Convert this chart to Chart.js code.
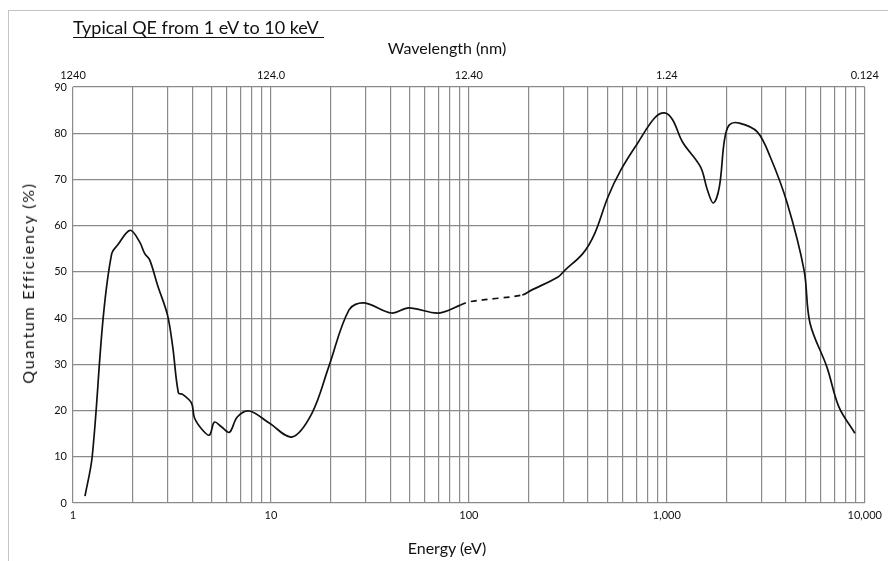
<!DOCTYPE html>
<html>
<head>
<meta charset="utf-8">
<script src="https://cdn.jsdelivr.net/npm/chart.js@4/dist/chart.umd.min.js"></script>
<style>
  html, body { margin: 0; padding: 0; background: #fff; }
  #wrap { position: relative; width: 888px; height: 561px; overflow: hidden; font-family: Lato, "DejaVu Sans", sans-serif; color: #111; }
  #frame { position: absolute; left: 8px; top: 10px; width: 890px; height: 560px;
           border-left: 1px solid #c4c4c4; border-top: 1px solid #c4c4c4; }
  #title { position: absolute; left: 73px; top: 18px; font-size: 18px;
           border-bottom: 1px solid #111; padding: 0 5px 0 0; line-height: 19px; }
  .axis-title { position: absolute; font-size: 16px; line-height: 18px; white-space: nowrap; transform: translate(-50%, -50%); }
  #xTitle { left: 447px; top: 548px; }
  #x2Title { left: 447px; top: 48px; }
  #yTitle { left: 28px; top: 283px; letter-spacing: 1.7px; transform: translate(-50%, -50%) rotate(-90deg); }
  canvas { position: absolute; left: 0; top: 0; }
</style>
</head>
<body>
<div id="wrap">
  <div id="frame"></div>
  <canvas id="qeChart" width="888" height="561"></canvas>
  <div id="title">Typical QE from 1 eV to 10 keV</div>
  <div class="axis-title" id="x2Title">Wavelength (nm)</div>
  <div class="axis-title" id="xTitle">Energy (eV)</div>
  <div class="axis-title" id="yTitle">Quantum Efficiency (%)</div>
</div>
<script>
// Curve: photon energy (eV) and quantum efficiency (%)
const energy = [1.15, 1.25, 1.42, 1.57, 1.68, 1.94, 2.17, 2.30, 2.44, 2.68, 3.0, 3.19, 3.41, 3.58, 3.97, 4.11, 4.51, 4.89,
                5.18, 5.62, 6.17, 6.76, 7.78, 9.8, 12.8, 16.1, 19.6, 24.8, 29.5, 40.7, 49.6, 70.3, 90.6,
                99.4, 141, 186, 206, 282, 306, 377, 433, 504, 585, 713, 867, 975, 1069, 1200, 1479, 1603, 1718,
                1842, 1954, 2069, 2322, 2862, 3327, 4053, 4933, 5288, 6437, 7396, 8908];
const qe = [1.5, 10, 40, 54, 55.8, 59, 56.5, 54, 52.6, 47, 40.7, 33.8, 23.8, 23.5, 21.6, 18.4, 15.8, 14.7,
            17.5, 16.5, 15.3, 18.6, 19.9, 17.3, 14.3, 19.4, 29.5, 41.8, 43.3, 41.1, 42.2, 41.1, 42.8,
            43.5, 44.3, 45, 46, 48.9, 50.4, 54, 58.4, 66.2, 72, 77.9, 83.3, 84.4, 82.9, 78.1, 72.7, 67.7, 64.9,
            68.4, 78.5, 81.8, 82.2, 80.3, 74.9, 64.9, 50.4, 38.9, 29.4, 20.8, 15.1];
// Energy range drawn dashed
const dashedRange = [90, 190];

// Axis ticks
const energyTicks = [1, 10, 100, 1000, 10000];
const energyLabels = ['1', '10', '100', '1,000', '10,000'];
const wavelengthLabels = ['1240', '124.0', '12.40', '1.24', '0.124'];
const qeTicks = [0, 10, 20, 30, 40, 50, 60, 70, 80, 90];

const font = 'Lato, "DejaVu Sans", sans-serif';
const gridColor = '#8a8a8a';

function allLogTicks() {
    const ticks = [];
    for (let d = 1; d < 10000; d *= 10) {
        for (let m = 1; m < 10; m++) ticks.push({ value: m * d });
    }
    ticks.push({ value: 10000 });
    return ticks;
}

const ctx = document.getElementById('qeChart').getContext('2d');
new Chart(ctx, {
    type: 'line',
    data: {
        datasets: [{
            data: energy.map((e, i) => ({ x: e, y: qe[i] })),
            borderColor: '#111',
            borderWidth: 1.7,
            pointRadius: 0,
            tension: 0.35,
            fill: false,
            segment: {
                borderDash: c => (c.p0.parsed.x >= dashedRange[0] && c.p1.parsed.x <= dashedRange[1]) ? [6, 5] : undefined
            }
        }]
    },
    options: {
        responsive: false,
        animation: false,
        layout: { padding: { left: 0, right: 20, top: 0, bottom: 0 } },
        plugins: { legend: { display: false }, tooltip: { enabled: false } },
        scales: {
            x: {
                type: 'logarithmic',
                position: 'bottom',
                min: 1,
                max: 10000,
                afterBuildTicks: s => { s.ticks = allLogTicks(); },
                afterFit: s => { s.height = 58; },
                grid: { color: gridColor, lineWidth: 1.2, drawTicks: false },
                border: { display: false },
                ticks: {
                    autoSkip: false,
                    maxRotation: 0,
                    padding: 6,
                    color: '#111',
                    font: { family: font, size: 11 },
                    callback: v => {
                        const i = energyTicks.indexOf(v);
                        return i >= 0 ? energyLabels[i] : '';
                    }
                }
            },
            x2: {
                type: 'logarithmic',
                position: 'top',
                min: 1,
                max: 10000,
                afterBuildTicks: s => { s.ticks = energyTicks.map(v => ({ value: v })); },
                afterFit: s => { s.height = 87; },
                grid: { display: false },
                border: { display: false },
                ticks: {
                    autoSkip: false,
                    maxRotation: 0,
                    padding: -3,
                    color: '#111',
                    font: { family: font, size: 11 },
                    callback: v => {
                        const i = energyTicks.indexOf(v);
                        return i >= 0 ? wavelengthLabels[i] : '';
                    }
                }
            },
            y: {
                min: 0,
                max: 90,
                afterBuildTicks: s => { s.ticks = qeTicks.map(v => ({ value: v })); },
                afterFit: s => { s.width = 73; },
                grid: { color: gridColor, lineWidth: 1.2, drawTicks: false },
                border: { display: false },
                ticks: {
                    padding: 6,
                    color: '#111',
                    font: { family: font, size: 11 }
                }
            }
        }
    }
});
</script>
</body>
</html>
